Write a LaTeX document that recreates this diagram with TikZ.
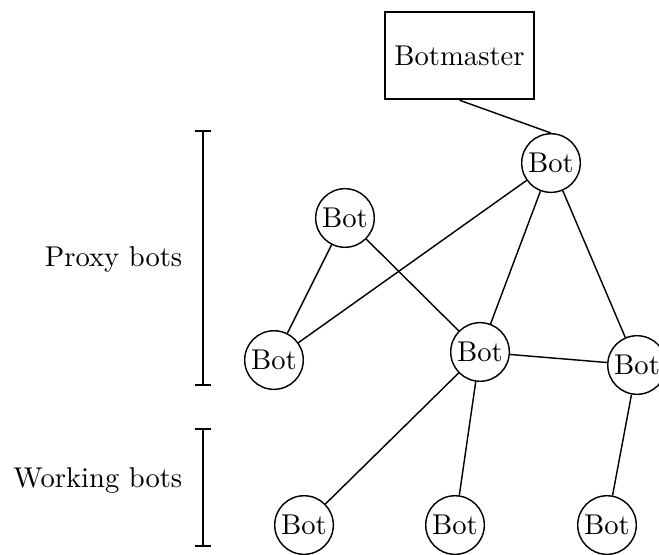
\documentclass[tikz,border=0pt]{standalone}
\usepackage{tikz}

\begin{document}
\begin{tikzpicture}[line width=0.5pt,
	bot/.style={circle,draw,inner sep=1pt,minimum size=0.72cm},
	master/.style={rectangle,draw,thick,minimum width=1.83cm,minimum height=1.07cm}]
\useasboundingbox (0,0) rectangle (8.096,6.806);
\node[master] (bm) at (5.645,6.124){Botmaster};
% proxy bots
\node[bot] (pa) at (6.769,4.803){Bot};
\node[bot] (pb) at (4.238,4.128){Bot};
\node[bot] (pc) at (3.366,2.383){Bot};
\node[bot] (pd) at (5.897,2.482){Bot};
\node[bot] (pe) at (7.826,2.322){Bot};
% working bots
\node[bot] (wa) at (3.735,0.356){Bot};
\node[bot] (wb) at (5.590,0.356){Bot};
\node[bot] (wc) at (7.457,0.356){Bot};
\draw (bm.south) -- (pa.north);
\draw (pa) -- (pc);
\draw (pa) -- (pd);
\draw (pa) -- (pe);
\draw (pb) -- (pc);
\draw (pb) -- (pd);
\draw (pd) -- (pe);
\draw (pd) -- (wa);
\draw (pd) -- (wb);
\draw (pe) -- (wc);
% brackets
\foreach \a/\b in {5.197/2.076,1.536/0.098}{
	\draw[thick] (2.494,\a) -- (2.494,\b);
	\draw[thick] (2.40,\a) -- (2.59,\a);
	\draw[thick] (2.40,\b) -- (2.59,\b);
	}
\node[anchor=east] (proxy) at (2.365,3.624){Proxy bots};
\node[anchor=east] (work) at (2.365,0.897){Working bots};
\end{tikzpicture}
\end{document}
